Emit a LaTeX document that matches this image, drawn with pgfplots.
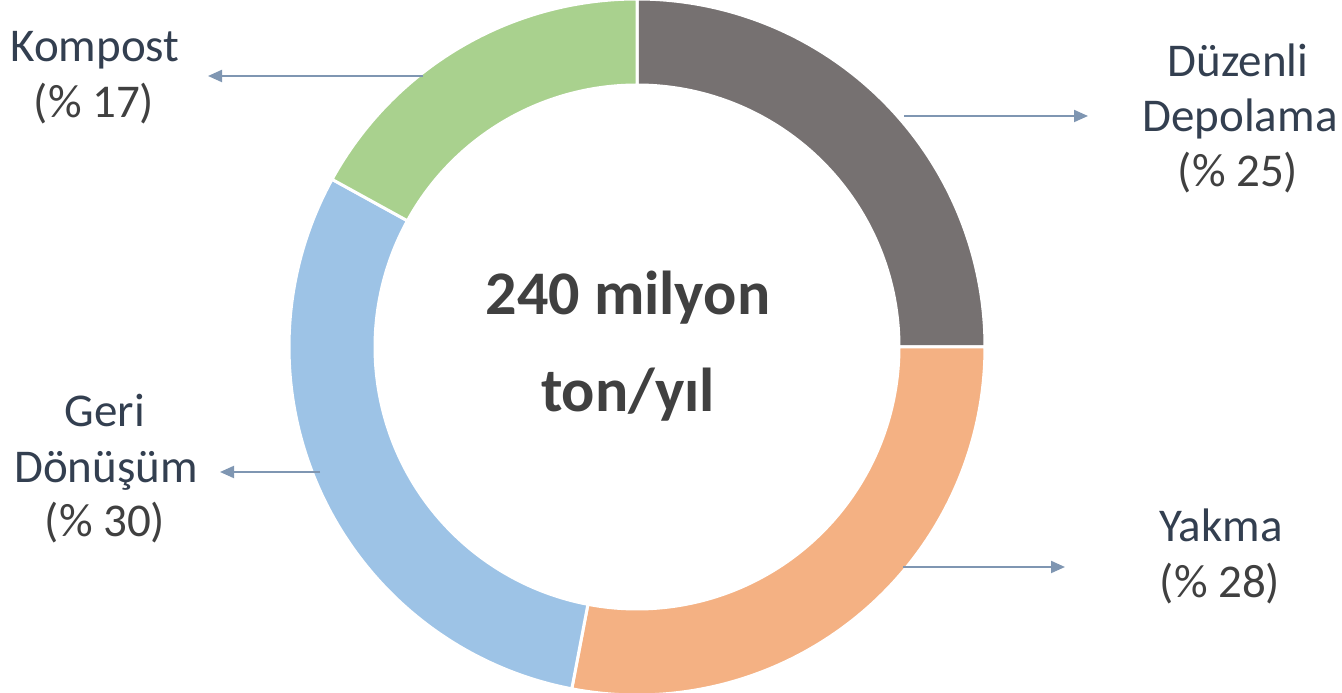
\documentclass[border=0pt]{standalone}
\usepackage{pgfplots}
\pgfplotsset{compat=1.18}
\usepackage{pgfplotstable}
\usepackage{fontspec}
\setmainfont{Carlito}
\usetikzlibrary{arrows.meta}

\definecolor{seg0}{HTML}{767171}
\definecolor{seg1}{HTML}{F4B183}
\definecolor{seg2}{HTML}{9DC3E6}
\definecolor{seg3}{HTML}{A9D18E}
\definecolor{navy}{HTML}{333F50}
\definecolor{dgray}{HTML}{404040}
\definecolor{arr}{HTML}{7F96B2}

% shares in percent, clockwise from the top
\pgfplotstableread{
name share
Depolama 25
Yakma 28
Geri 30
Kompost 17
}\data

\begin{document}
\begin{tikzpicture}
\begin{axis}[name=ax, x=1pt, y=1pt, xmin=0, xmax=1342, ymin=0, ymax=693,
  hide axis, clip=false]
\gdef\angA{90}
\pgfplotsforeachungrouped \i in {0,...,3}{
  \pgfplotstablegetelem{\i}{share}\of\data
  \pgfmathsetmacro\angB{\angA-3.6*\pgfplotsretval}
  \edef\cmd{\noexpand\filldraw[fill=seg\i, draw=white, line width=3pt, line join=round]
    (axis cs:{637+348*cos(\angA)},{346+348*sin(\angA)})
    arc[start angle=\angA, end angle=\angB, radius=348pt]
    -- (axis cs:{637+262*cos(\angB)},{346+262*sin(\angB)})
    arc[start angle=\angB, end angle=\angA, radius=262pt] -- cycle;}
  \cmd
  \xdef\angA{\angB}
}
% centre text
\node[anchor=base, text=dgray, font=\fontsize{62}{72}\selectfont\bfseries] at (axis cs:628,378) {240 milyon};
\node[anchor=base, text=dgray, font=\fontsize{62}{72}\selectfont\bfseries] at (axis cs:628,281) {ton/yıl};
% labels
\tikzset{lab/.style={anchor=base, font=\fontsize{47}{57}\selectfont}}
\node[lab, text=navy] at (axis cs:95,631) {Kompost};
\node[lab, text=dgray] at (axis cs:94,575) {(\% 17)};
\node[lab, text=navy] at (axis cs:1238,616) {Düzenli};
\node[lab, text=navy] at (axis cs:1240,561) {Depolama};
\node[lab, text=dgray] at (axis cs:1238,506) {(\% 25)};
\node[lab, text=navy] at (axis cs:105,266) {Geri};
\node[lab, text=navy] at (axis cs:106,210) {Dönüşüm};
\node[lab, text=dgray] at (axis cs:105,156) {(\% 30)};
\node[lab, text=navy] at (axis cs:1221,151) {Yakma};
\node[lab, text=dgray] at (axis cs:1220,95) {(\% 28)};
% arrows
\tikzset{ar/.style={draw=arr, line width=2pt, -{Triangle[length=14pt, width=12pt]}}}
\draw[ar] (axis cs:423,617) -- (axis cs:208,617);
\draw[ar] (axis cs:904,577) -- (axis cs:1088,577);
\draw[ar] (axis cs:320,221) -- (axis cs:220,221);
\draw[ar] (axis cs:903,126) -- (axis cs:1065,126);
\end{axis}
\pgfresetboundingbox
\path (ax.south west) rectangle (ax.north east);
\end{tikzpicture}
\end{document}
